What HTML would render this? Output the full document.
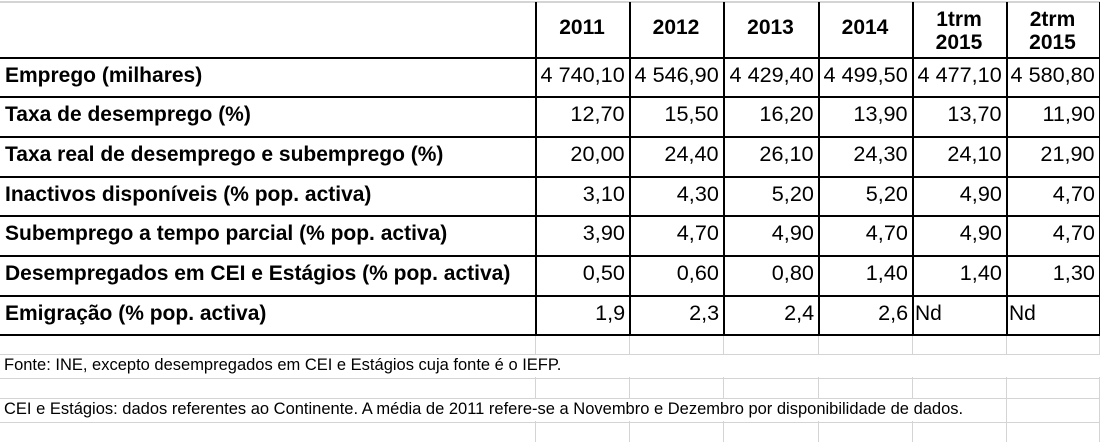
<!DOCTYPE html>
<html><head><meta charset="utf-8"><style>
body{margin:0;width:1100px;height:442px;background:#fff;position:relative;overflow:hidden;font-family:"Liberation Sans",Arial,sans-serif;}
.h,.v{position:absolute;background:#000}
.g{position:absolute;background:#d4d4d4}
.t{position:absolute;white-space:nowrap;font-size:21px;color:#000;line-height:22px}
.b{font-weight:bold}
.r{text-align:right}
.r span{display:inline-block;transform:scaleX(1.03);transform-origin:right center}
.c{text-align:center}
.f{position:absolute;font-size:16.5px;white-space:nowrap;color:#000}
</style></head><body>
<div class="g" style="left:0;top:1px;width:1100px;height:2px"></div>
<div id="grid"></div>
<script>
var cols=[535,629,723,818,912,1006,1099];
var rows=[57,96,136,176,215,255,295,334];
var g=document.getElementById('grid'),h='';
[354,378,398,422].forEach(function(y){h+='<div class="g" style="left:0;top:'+y+'px;width:1100px;height:1px"></div>';});
cols.forEach(function(x){h+='<div class="g" style="left:'+x+'px;top:334px;width:1px;height:108px"></div>';});
rows.forEach(function(y){h+='<div class="h" style="left:0;top:'+y+'px;width:1100px;height:2px"></div>';});
cols.forEach(function(x){h+='<div class="v" style="left:'+x+'px;top:2px;width:2px;height:334px"></div>';});
var hd=['2011','2012','2013','2014','1trm<br>2015','2trm<br>2015'];
hd.forEach(function(s,i){var two=s.indexOf('<br>')>0;h+='<div class="t b c" style="left:'+cols[i]+'px;width:'+(cols[i+1]-cols[i])+'px;top:'+(two?8:17)+'px;line-height:'+(two?'23px':'22px')+';font-size:21px">'+s+'</div>';});
var data=[['Emprego (milhares)',['4 740,10','4 546,90','4 429,40','4 499,50','4 477,10','4 580,80']],
['Taxa de desemprego (%)',['12,70','15,50','16,20','13,90','13,70','11,90']],
['Taxa real de desemprego e subemprego (%)',['20,00','24,40','26,10','24,30','24,10','21,90']],
['Inactivos disponíveis (% pop. activa)',['3,10','4,30','5,20','5,20','4,90','4,70']],
['Subemprego a tempo parcial (% pop. activa)',['3,90','4,70','4,90','4,70','4,90','4,70']],
['Desempregados em CEI e Estágios (% pop. activa)',['0,50','0,60','0,80','1,40','1,40','1,30']],
['Emigração (% pop. activa)',['1,9','2,3','2,4','2,6','Nd','Nd']]];
data.forEach(function(d,r){var y=rows[r]+8;
h+='<div class="t b" style="left:5px;top:'+y+'px">'+d[0]+'</div>';
d[1].forEach(function(v,i){if(v=='Nd')h+='<div class="t" style="left:'+(cols[i]+3)+'px;top:'+y+'px">Nd</div>';
else h+='<div class="t r" style="left:'+cols[i]+'px;width:'+(cols[i+1]-cols[i]-4)+'px;top:'+y+'px"><span>'+v+'</span></div>';});});
h+='<div style="position:absolute;left:0;top:355px;width:1100px;height:22px;background:#fff"></div><div class="f" style="left:4px;top:356px">Fonte: INE, excepto desempregados em CEI e Estágios cuja fonte é o IEFP.</div>';
h+='<div style="position:absolute;left:0;top:399px;width:1005px;height:22px;background:#fff"></div><div class="f" style="left:4px;top:400px">CEI e Estágios: dados referentes ao Continente. A média de 2011 refere-se a Novembro e Dezembro por disponibilidade de dados.</div>';
g.innerHTML=h;
</script>
</body></html>
